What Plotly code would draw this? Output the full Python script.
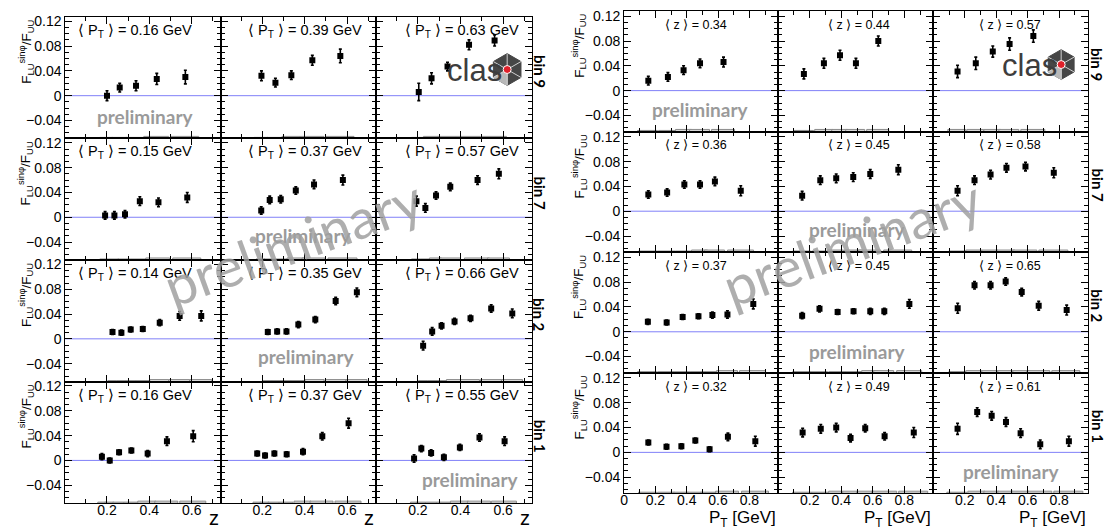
import numpy as np
import plotly.graph_objects as go

W, H = 1107, 531

# ---------------- data ----------------
# Left panel: F_LU^{sin phi}/F_UU versus z, columns = <P_T> bins
ROW_BINS = ["bin 9", "bin 7", "bin 2", "bin 1"]

left_pt_labels = [["0.16", "0.39", "0.63"],
                  ["0.15", "0.37", "0.57"],
                  ["0.14", "0.35", "0.66"],
                  ["0.16", "0.37", "0.55"]]

bin9_left_z = [[0.20, 0.26, 0.337, 0.435, 0.57],
               [0.196, 0.262, 0.337, 0.436, 0.568],
               [0.204, 0.264, 0.339, 0.44, 0.56]]
bin9_left_a = [[0.000, 0.013, 0.016, 0.027, 0.030],
               [0.032, 0.021, 0.033, 0.057, 0.064],
               [0.006, 0.028, 0.047, 0.082, 0.089]]
bin9_left_e = [[0.008, 0.007, 0.008, 0.009, 0.011],
               [0.008, 0.007, 0.007, 0.008, 0.011],
               [0.014, 0.009, 0.007, 0.008, 0.009]]
bin9_left_sys = [[0.001, 0.001, 0.001, 0.002, 0.003],
                 [0.001, 0.001, 0.002, 0.002, 0.003],
                 [0.001, 0.002, 0.002, 0.003, 0.003]]

bin7_left_z = [[0.191, 0.235, 0.285, 0.355, 0.443, 0.579],
               [0.195, 0.235, 0.287, 0.358, 0.444, 0.58],
               [0.193, 0.235, 0.285, 0.352, 0.48, 0.58]]
bin7_left_a = [[0.003, 0.003, 0.005, 0.026, 0.024, 0.032],
               [0.011, 0.028, 0.029, 0.043, 0.053, 0.060],
               [0.026, 0.015, 0.035, 0.049, 0.060, 0.070]]
bin7_left_e = [[0.006, 0.006, 0.006, 0.007, 0.007, 0.008],
               [0.006, 0.006, 0.006, 0.006, 0.007, 0.008],
               [0.008, 0.007, 0.006, 0.006, 0.007, 0.008]]
bin7_left_sys = [[0.001, 0.001, 0.001, 0.001, 0.002, 0.002],
                 [0.001, 0.001, 0.001, 0.002, 0.002, 0.003],
                 [0.001, 0.001, 0.002, 0.002, 0.002, 0.003]]

bin2_left_z = [[0.226, 0.268, 0.312, 0.369, 0.449, 0.543, 0.645],
               [0.226, 0.270, 0.314, 0.370, 0.450, 0.546, 0.646],
               [0.2245, 0.267, 0.311, 0.372, 0.447, 0.544, 0.643]]
bin2_left_a = [[0.011, 0.010, 0.015, 0.016, 0.026, 0.037, 0.037],
               [0.011, 0.012, 0.012, 0.023, 0.031, 0.061, 0.075],
               [-0.011, 0.012, 0.021, 0.028, 0.033, 0.049, 0.041]]
bin2_left_e = [[0.004, 0.004, 0.004, 0.004, 0.005, 0.007, 0.008],
               [0.004, 0.004, 0.004, 0.005, 0.005, 0.006, 0.007],
               [0.007, 0.006, 0.005, 0.005, 0.005, 0.006, 0.007]]
bin2_left_sys = [[0.001, 0.001, 0.001, 0.001, 0.002, 0.002, 0.003],
                 [0.001, 0.001, 0.001, 0.001, 0.002, 0.003, 0.003],
                 [0.001, 0.001, 0.001, 0.002, 0.002, 0.002, 0.003]]

bin1_left_z = [[0.176, 0.213, 0.257, 0.315, 0.392, 0.483, 0.607],
               [0.176, 0.213, 0.257, 0.315, 0.392, 0.483, 0.607],
               [0.182, 0.216, 0.262, 0.322, 0.397, 0.489, 0.607]]
bin1_left_a = [[0.006, 0.000, 0.013, 0.016, 0.011, 0.031, 0.039],
               [0.011, 0.008, 0.011, 0.010, 0.014, 0.039, 0.060],
               [0.003, 0.019, 0.012, 0.005, 0.021, 0.037, 0.031]]
bin1_left_e = [[0.005, 0.004, 0.004, 0.004, 0.005, 0.007, 0.009],
               [0.004, 0.004, 0.004, 0.004, 0.005, 0.006, 0.008],
               [0.006, 0.005, 0.005, 0.005, 0.005, 0.006, 0.007]]
bin1_left_sys = [[0.0005, 0.001, 0.001, 0.001, 0.002, 0.003, 0.003],
                 [0.0005, 0.001, 0.001, 0.001, 0.002, 0.003, 0.003],
                 [0.001, 0.001, 0.001, 0.001, 0.002, 0.002, 0.003]]

# Right panel: F_LU^{sin phi}/F_UU versus P_T, columns = <z> bins
right_z_labels = [["0.34", "0.44", "0.57"],
                  ["0.36", "0.45", "0.58"],
                  ["0.37", "0.45", "0.65"],
                  ["0.32", "0.49", "0.61"]]

bin9_right_pt = [[0.155, 0.28, 0.38, 0.485, 0.635],
                 [0.163, 0.29, 0.392, 0.493, 0.635],
                 [0.154, 0.27, 0.378, 0.485, 0.636]]
bin9_right_a = [[0.016, 0.022, 0.033, 0.044, 0.046],
                [0.027, 0.044, 0.057, 0.044, 0.080],
                [0.031, 0.044, 0.063, 0.075, 0.088]]
bin9_right_e = [[0.007, 0.007, 0.007, 0.007, 0.008],
                [0.008, 0.008, 0.008, 0.008, 0.008],
                [0.010, 0.010, 0.009, 0.010, 0.010]]
bin9_right_sys = [[0.001, 0.001, 0.002, 0.002, 0.003],
                  [0.001, 0.002, 0.002, 0.002, 0.003],
                  [0.002, 0.002, 0.002, 0.003, 0.003]]

bin7_right_pt = [[0.155, 0.275, 0.385, 0.485, 0.58, 0.745],
                 [0.152, 0.267, 0.368, 0.476, 0.584, 0.762],
                 [0.154, 0.262, 0.364, 0.465, 0.586, 0.766]]
bin7_right_a = [[0.027, 0.030, 0.043, 0.043, 0.048, 0.033],
                [0.025, 0.050, 0.053, 0.055, 0.060, 0.067],
                [0.033, 0.050, 0.059, 0.070, 0.072, 0.062]]
bin7_right_e = [[0.006, 0.006, 0.006, 0.006, 0.007, 0.008],
                [0.007, 0.007, 0.007, 0.007, 0.007, 0.008],
                [0.008, 0.007, 0.007, 0.007, 0.007, 0.008]]
bin7_right_sys = [[0.001, 0.001, 0.001, 0.002, 0.002, 0.002],
                  [0.001, 0.001, 0.002, 0.002, 0.002, 0.003],
                  [0.001, 0.002, 0.002, 0.002, 0.003, 0.003]]

bin2_right_pt = [[0.152, 0.272, 0.374, 0.475, 0.564, 0.66, 0.825],
                 [0.152, 0.262, 0.377, 0.478, 0.584, 0.673, 0.832],
                 [0.155, 0.262, 0.364, 0.46, 0.562, 0.67, 0.848]]
bin2_right_a = [[0.016, 0.015, 0.024, 0.025, 0.027, 0.028, 0.045],
                [0.026, 0.037, 0.032, 0.033, 0.033, 0.033, 0.045],
                [0.038, 0.075, 0.075, 0.081, 0.064, 0.042, 0.035]]
bin2_right_e = [[0.004, 0.004, 0.004, 0.004, 0.005, 0.006, 0.008],
                [0.005, 0.005, 0.004, 0.004, 0.005, 0.005, 0.007],
                [0.008, 0.006, 0.006, 0.006, 0.006, 0.007, 0.008]]
bin2_right_sys = [[0.001, 0.001, 0.001, 0.001, 0.001, 0.002, 0.002],
                  [0.001, 0.001, 0.001, 0.001, 0.002, 0.002, 0.003],
                  [0.001, 0.002, 0.002, 0.002, 0.002, 0.002, 0.003]]

bin1_right_pt = [[0.155, 0.271, 0.366, 0.455, 0.546, 0.663, 0.838],
                 [0.155, 0.27, 0.368, 0.459, 0.552, 0.675, 0.86],
                 [0.154, 0.279, 0.371, 0.462, 0.555, 0.68, 0.862]]
bin1_right_a = [[0.016, 0.009, 0.010, 0.019, 0.005, 0.025, 0.018],
                [0.032, 0.038, 0.040, 0.023, 0.039, 0.026, 0.032],
                [0.038, 0.065, 0.059, 0.049, 0.031, 0.013, 0.018]]
bin1_right_e = [[0.004, 0.004, 0.004, 0.004, 0.004, 0.006, 0.008],
                [0.007, 0.007, 0.007, 0.006, 0.006, 0.006, 0.008],
                [0.009, 0.007, 0.007, 0.007, 0.007, 0.007, 0.008]]
bin1_right_sys = [[0.001, 0.001, 0.001, 0.001, 0.001, 0.002, 0.002],
                  [0.001, 0.001, 0.002, 0.002, 0.002, 0.002, 0.003],
                  [0.001, 0.002, 0.002, 0.002, 0.002, 0.002, 0.003]]

LEFT_ROWS = [(bin9_left_z, bin9_left_a, bin9_left_e, bin9_left_sys),
             (bin7_left_z, bin7_left_a, bin7_left_e, bin7_left_sys),
             (bin2_left_z, bin2_left_a, bin2_left_e, bin2_left_sys),
             (bin1_left_z, bin1_left_a, bin1_left_e, bin1_left_sys)]
RIGHT_ROWS = [(bin9_right_pt, bin9_right_a, bin9_right_e, bin9_right_sys),
              (bin7_right_pt, bin7_right_a, bin7_right_e, bin7_right_sys),
              (bin2_right_pt, bin2_right_a, bin2_right_e, bin2_right_sys),
              (bin1_right_pt, bin1_right_a, bin1_right_e, bin1_right_sys)]

Y_TICKS = [-0.04, 0, 0.04, 0.08, 0.12]
Z_TICKS = [0.2, 0.4, 0.6]
PT_TICKS = [0, 0.2, 0.4, 0.6, 0.8]

# ---------------- layout geometry (pixels) ----------------
LEFT_XE = [61.5, 217.3, 373.3, 530.0]
RIGHT_XE = [622.3, 777.0, 932.7, 1088.0]
LEFT_TOP, LEFT_RH = 13.0, 122.5
RIGHT_TOP, RIGHT_RH = 7.0, 121.5
LEFT_XR = [0.003, 0.736]
LEFT_YR = [-0.069, 0.127]
RIGHT_XR = [0.0, 0.984]
RIGHT_YR = [-0.066, 0.1285]

FONT = "Liberation Sans, Arial, Helvetica, sans-serif"
CAL = "Lato, Carlito, sans-serif"
ZERO_BLUE = "#8080f8"


def px(x):
    return x / W


def py(y):
    return 1 - y / H


def bin_widths(xs):
    xs = np.asarray(xs, float)
    mids = (xs[1:] + xs[:-1]) / 2
    edges = np.concatenate([[xs[0] - (mids[0] - xs[0])], mids,
                            [xs[-1] + (xs[-1] - mids[-1])]])
    return np.diff(edges)


fig = go.Figure()
layout = {}
annotations = []
shapes = []
ax_n = 0


def make_axes(x0, x1, ytop, ybot, xr, yr, xticks, show_xlab, show_ylab):
    global ax_n
    ax_n += 1
    s = "" if ax_n == 1 else str(ax_n)
    xa = dict(domain=[px(x0), px(x1)], range=xr, anchor="y" + s,
              showgrid=False, zeroline=False, showline=True, linecolor="black",
              linewidth=1, mirror="ticks", ticks="inside", ticklen=7, tickwidth=1,
              tickcolor="black", tickvals=xticks, showticklabels=show_xlab,
              ticklabelstandoff=-6,
              tickfont=dict(family=FONT, size=14, color="black"),
              minor=dict(dtick=0.1, tick0=0, ticks="inside", ticklen=4,
                         tickcolor="black", showgrid=False),
              fixedrange=True)
    ya = dict(domain=[py(ybot), py(ytop)], range=yr, anchor="x" + s,
              showgrid=False, zeroline=False, showline=True, linecolor="black",
              linewidth=1, mirror="ticks", ticks="inside", ticklen=7, tickwidth=1,
              tickcolor="black", tickvals=Y_TICKS, showticklabels=show_ylab,
              tickfont=dict(family=FONT, size=14, color="black"),
              minor=dict(dtick=0.01, tick0=0, ticks="inside", ticklen=4,
                         tickcolor="black", showgrid=False),
              fixedrange=True)
    layout["xaxis" + s] = xa
    layout["yaxis" + s] = ya
    return "x" + s, "y" + s


def add_panel(rows, xe, top, rh, xr, yr, is_left):
    for r, (xs_all, a_all, e_all, sys_all) in enumerate(rows):
        ytop = top + r * rh
        ybot = ytop + rh
        for c in range(3):
            if is_left:
                xt = Z_TICKS
            else:
                xt = PT_TICKS if c == 0 else PT_TICKS[1:]
            xref, yref = make_axes(xe[c], xe[c + 1], ytop, ybot, xr, yr, xt,
                                   r == 3, c == 0)
            # zero line across the pad
            shapes.append(dict(type="line", xref=xref + " domain", yref=yref,
                               x0=0, x1=1, y0=0, y1=0, layer="below",
                               line=dict(color=ZERO_BLUE, width=1)))
            xs = xs_all[c]
            fig.add_trace(go.Bar(
                x=xs, y=sys_all[c], base=yr[0], width=bin_widths(xs),
                marker=dict(color="#dcdcdc", line=dict(color="#8c8c8c", width=1)),
                xaxis=xref, yaxis=yref, showlegend=False, hoverinfo="skip"))
            fig.add_trace(go.Scatter(
                x=xs, y=a_all[c], mode="markers",
                marker=dict(symbol="square", size=6, color="black"),
                error_y=dict(type="data", array=e_all[c], color="black",
                             thickness=1.6, width=1.5),
                xaxis=xref, yaxis=yref, showlegend=False))


add_panel(LEFT_ROWS, LEFT_XE, LEFT_TOP, LEFT_RH, LEFT_XR, LEFT_YR, True)
add_panel(RIGHT_ROWS, RIGHT_XE, RIGHT_TOP, RIGHT_RH, RIGHT_XR, RIGHT_YR, False)


def ann(x, y, text, size, family=FONT, color="black", xanchor="center",
        yanchor="middle", angle=0):
    annotations.append(dict(x=px(x), y=py(y), xref="paper", yref="paper",
                            text=text, showarrow=False, xanchor=xanchor,
                            yanchor=yanchor, textangle=angle,
                            font=dict(family=family, size=size, color=color)))


YTITLE = "F<sub>LU</sub><sup>sinφ</sup>/F<sub>UU</sub>"

# texts for each row
LEFT_LABEL_OFF = [11, 26, 27]
RIGHT_LABEL_OFF = [39, 48, 44]
for r in range(4):
    lt = LEFT_TOP + r * LEFT_RH
    rt = RIGHT_TOP + r * RIGHT_RH
    for c in range(3):
        ann(LEFT_XE[c] + LEFT_LABEL_OFF[c], lt + 14,
            "⟨ P<sub>T</sub> ⟩ = " + left_pt_labels[r][c] + " GeV", 14.5,
            xanchor="left")
        ann(RIGHT_XE[c] + RIGHT_LABEL_OFF[c], rt + 14,
            "⟨ z ⟩ = " + right_z_labels[r][c], 12.5, xanchor="left")
    ann(537.5, lt + 55, "<b>" + ROW_BINS[r] + "</b>", 15, family=CAL, angle=90)
    ann(1097.5, rt + 54, "<b>" + ROW_BINS[r] + "</b>", 15, family=CAL, angle=90)
    ann(22, lt + 1, YTITLE, 13.5, yanchor="top", angle=-90)
    ann(577, rt + 1, YTITLE, 13.5, yanchor="top", angle=-90)

# x axis titles
for c in range(3):
    ann(LEFT_XE[c + 1], 531, "z", 20, xanchor="right", yanchor="bottom")
    ann(RIGHT_XE[c + 1], 532, "P<sub>T</sub> [GeV]", 17, xanchor="right",
        yanchor="bottom")

# small "preliminary" labels
PRELIM_GRAY = "#9a9a9a"
for (x, y) in [(141.7, 113), (300, 233), (303, 355), (468, 479),
               (699, 106), (856, 227), (856, 350), (1010.5, 471)]:
    ann(x, y, "<b>preliminary</b>", 19, family=CAL, color=PRELIM_GRAY)

# big watermark
for (x, y) in [(290, 240), (851, 240)]:
    ann(x, y, "preliminary", 55, family=CAL, color="rgba(160,160,160,0.85)",
        angle=-20)


# clas logos
def logo(cx, cy, r, tx):
    verts = []
    for k in range(6):
        ang = np.deg2rad(90 + 60 * k)
        verts.append((cx + r * np.cos(ang), cy - r * np.sin(ang)))
    path = "M " + " L ".join(f"{px(vx):.5f},{py(vy):.5f}" for vx, vy in verts) + " Z"
    shapes.append(dict(type="path", path=path, xref="paper", yref="paper",
                       fillcolor="#464646", line=dict(color="#464646", width=1)))
    tri = [(cx, cy), verts[2], verts[3]]
    path2 = "M " + " L ".join(f"{px(vx):.5f},{py(vy):.5f}" for vx, vy in tri) + " Z"
    shapes.append(dict(type="path", path=path2, xref="paper", yref="paper",
                       fillcolor="#b8b8b8", line=dict(color="#b8b8b8", width=1)))
    for k in range(6):
        vx, vy = verts[k]
        shapes.append(dict(type="line", xref="paper", yref="paper",
                           x0=px(cx), y0=py(cy), x1=px(vx), y1=py(vy),
                           line=dict(color="#d0d0d0", width=1)))
    rr = 4
    shapes.append(dict(type="circle", xref="paper", yref="paper",
                       x0=px(cx - rr), x1=px(cx + rr), y0=py(cy + rr), y1=py(cy - rr),
                       fillcolor="#e0202a", line=dict(color="white", width=1)))
    ann(tx, cy + 1, "clas", 31, family="Liberation Sans, Arial", color="#3d3d3d")


logo(505, 66, 16, 472)
logo(1061, 61, 15, 1029)

layout.update(dict(
    width=W, height=H, margin=dict(l=0, r=0, t=0, b=0),
    paper_bgcolor="white", plot_bgcolor="white",
    annotations=annotations, shapes=shapes, showlegend=False,
    bargap=0, barmode="overlay",
))
fig.update_layout(**layout)
fig.write_html("out.html", config={"displayModeBar": False},
               post_script="document.body.style.margin='0';"
                           "document.body.style.overflow='hidden';")
